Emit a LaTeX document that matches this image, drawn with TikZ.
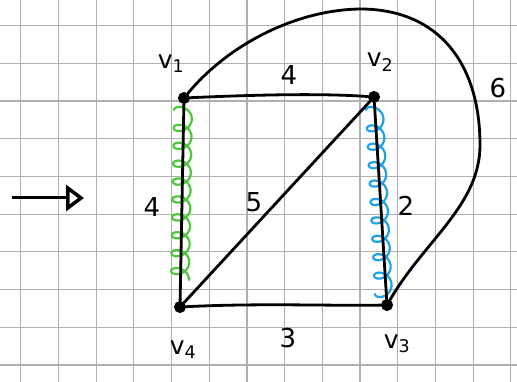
\documentclass[tikz,border=0pt]{standalone}
\usepackage{fontspec}
\setmainfont{DejaVu Sans}
\usetikzlibrary{arrows.meta}
\definecolor{gridc}{HTML}{B0B0B0}
\definecolor{springgreen}{HTML}{4CC83A}
\definecolor{springblue}{HTML}{1EA2E6}
\tikzset{
  vert/.style={circle,fill=black,draw=black,line width=1pt,inner sep=0pt,minimum size=11pt},
  edgeline/.style={line width=2.8pt,black,line cap=round},
  lbl/.style={font=\fontsize{25}{25}\selectfont,inner sep=0pt},
  wlbl/.style={font=\fontsize{26}{26}\selectfont,inner sep=0pt},
  springline/.style={line width=2.2pt,line cap=round,line join=round},
}
\begin{document}
\begin{tikzpicture}[x=1pt,y=-1pt]
\useasboundingbox (0,0) rectangle (517,382);
\fill[white] (0,0) rectangle (517,382);
% grid
\foreach \i in {0,...,13} {
  \draw[gridc,line width=1.2pt] ({20.7+37.7*\i},0) -- ({20.7+37.7*\i},382);
}
\foreach \j in {0,...,9} {
  \draw[gridc,line width=1.2pt] (0,{25.7+37.7*\j}) -- (517,{25.7+37.7*\j});
}
% vertices
\node[vert] (v1) at (184,98) {};
\node[vert] (v2) at (374,97) {};
\node[vert] (v3) at (387,305) {};
\node[vert] (v4) at (180,307) {};
% springs
\draw[springline,springgreen] plot[smooth,samples=400,domain=0:3420,variable=\t]
  ({183 - 3*(\t/3420) - 9*cos(\t)}, {110 + 170*(\t/3420) - 7*sin(\t)});
\draw[springline,springblue] plot[smooth,samples=420,domain=0:3600,variable=\t]
  ({374.5 + 9*(\t/3600) - 8.5*cos(\t)}, {110 + 184*(\t/3600) - 7*sin(\t)});
% edges
\draw[edgeline] (v1) .. controls (250,95) and (320,93) .. (v2);
\draw[edgeline] (v1) -- (v4);
\draw[edgeline] (v2) -- (v3);
\draw[edgeline] (v4) .. controls (260,303) and (330,306) .. (v3);
\draw[edgeline] (v2) -- (v4);
\draw[edgeline] (v1) .. controls (228,45) and (295,10) .. (360,9)
  .. controls (440,9) and (480,65) .. (480,145)
  .. controls (480,205) and (425,240) .. (v3);
% labels
\node[lbl] (l1) at (171,64) {v\textsubscript{1}};
\node[lbl] (l2) at (380,62) {v\textsubscript{2}};
\node[lbl] (l3) at (397,344) {v\textsubscript{3}};
\node[lbl] (l4) at (183,350) {v\textsubscript{4}};
\node[wlbl] (w12) at (289,75) {4};
\node[wlbl] (w14) at (152,207) {4};
\node[wlbl] (w24) at (254,202) {5};
\node[wlbl] (w23) at (406,206) {2};
\node[wlbl] (w43) at (288,338) {3};
\node[wlbl] (w13) at (498,88) {6};
% arrow
\coordinate (a1) at (12,198);
\coordinate (a2) at (84,198);
\draw[line width=3pt,-{Triangle[open,length=18pt,width=26pt,line width=3.5pt]}] (a1) -- (a2);
\end{tikzpicture}
\end{document}
